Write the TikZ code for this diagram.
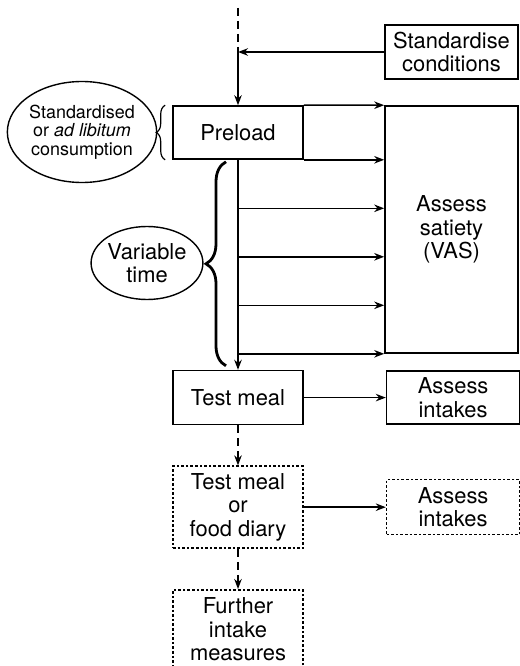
\documentclass[tikz,border=0pt]{standalone}
\usepackage{fontspec}
\setmainfont{TeX Gyre Heros}
\usetikzlibrary{positioning, calc, shapes.geometric, arrows.meta, decorations.pathreplacing}
\tikzset{
	every node/.append style={
		align = center,
		font={\fontsize{22}{23.5}\selectfont},
	},
	layer/.append style={
		draw,
		rectangle,
		line width=1.6pt,
		inner sep=0pt,
		minimum width=130bp,
	},
	widelayer/.append style={
		layer,
		minimum width=133bp,
	},
	dottedlayer/.append style={
		dash pattern=on 2.6bp off 2bp,
	},
	bubble/.append style={
		draw,
		ellipse,
		line width=1.4pt,
		inner sep=0pt,
	},
	link/.append style={
		line width=1.6pt,
		-{Stealth[length=10bp,width=7.5bp]},
	},
	dashlink/.append style={
		link,
		dash pattern=on 8bp off 5bp,
	},
	bracket/.append style={
		decorate,
		decoration={brace, amplitude=#1},
	},
}

\begin{document}
\begin{tikzpicture}[x=1bp, y=-1bp]
\useasboundingbox (0,0) rectangle (520,666);

\node(standardise)[widelayer, minimum height=54bp] at (451.5,52) {Standardise\\conditions};
\node(preload)[layer, minimum height=53bp] at (238,132.5) {Preload};
\node(satiety)[widelayer, minimum height=247bp] at (451.5,229.5) {Assess\\satiety\\(VAS)};

\node(testmeal)[layer, minimum height=54bp, below=210bp of preload]{Test meal};
\node(intake)[widelayer, minimum height=53bp, right=82bp of testmeal]{Assess\\intakes};

\node(diary)[layer, dottedlayer, minimum height=82bp, below=40bp of testmeal]{Test meal\\or\\food diary};
\node(laterintake)[widelayer, dottedlayer, minimum height=55bp, right=82bp of diary]{Assess\\intakes};
\node(further)[layer, dottedlayer, minimum height=79bp, below=40bp of diary]{Further\\intake\\measures};

\node(consumption)[bubble, minimum width=141bp, minimum height=101bp, font={\fontsize{18}{18.5}\selectfont}] at (82,132) {Standardised\\or \textit{ad libitum}\\consumption};
\node(vartime)[bubble, minimum width=110bp, minimum height=73bp] at (147,263) {Variable\\time};

% entry from above
\coordinate(top) at (238,8);
\coordinate(join) at (preload.north |- standardise.west);
\draw[line width=1.6pt, dash pattern=on 8bp off 5bp] (top) -- (join);
\draw[link] (standardise.west) -- (join);
\draw[link] (join) -- (preload.north);

% satiety ratings
\draw[link] (preload.north east) -- (satiety.north west);
\draw[link] (preload.south east) -- (preload.south east -| satiety.west);
\draw[link] (preload.south) -- (testmeal.north);
\foreach \i in {1,...,4}{
	\coordinate(tick\i) at ($(preload.south)+(0,\i*48.5)$);
	\draw[link] (tick\i) -- (tick\i -| satiety.west);
}

% braces
\draw[bracket=9bp, line width=1.2pt] ([xshift=-7bp]preload.south west) -- ([xshift=-7bp]preload.north west);
\draw[bracket=20bp, line width=2.8pt] ([xshift=-12bp, yshift=4bp]testmeal.north) -- ([xshift=-12bp, yshift=-2bp]preload.south);

% intakes
\draw[link] (testmeal.east) -- (intake.west);
\draw[dashlink] (testmeal.south) -- (diary.north);
\draw[link] (diary.east) -- (laterintake.west);
\draw[dashlink] (diary.south) -- (further.north);

\end{tikzpicture}
\end{document}
